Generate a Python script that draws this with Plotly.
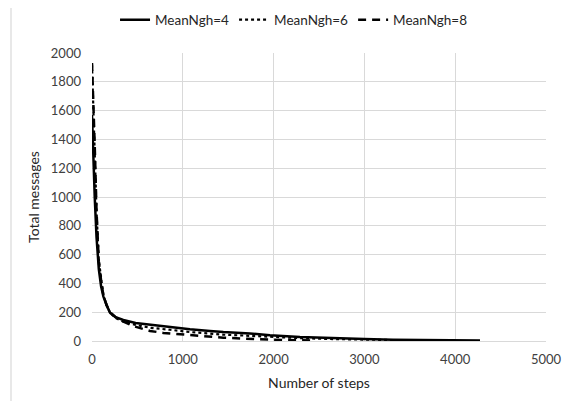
import plotly.graph_objects as go

steps4 = [0, 5, 15, 30, 50, 75, 100, 125, 160, 200, 260, 345, 480, 712, 860, 1079, 1300, 1446, 1740, 1960, 2290, 2600, 3000, 3315, 3700, 4000, 4273]
msgs4 = [1570, 1450, 1250, 1000, 720, 500, 380, 310, 250, 195, 165, 146, 125, 106, 98, 81, 70, 62, 52, 40, 28, 20, 14, 9, 6, 4, 3]

steps6 = [0, 5, 15, 30, 50, 75, 100, 125, 160, 200, 260, 345, 480, 639, 860, 1079, 1300, 1446, 1740, 1960, 2290, 2600, 3000, 3466]
msgs6 = [1920, 1800, 1600, 1300, 900, 560, 420, 320, 250, 195, 160, 135, 112, 92, 78, 62, 52, 44, 36, 28, 20, 14, 9, 5]

steps8 = [0, 5, 15, 30, 50, 75, 100, 125, 160, 200, 260, 327, 473, 639, 786, 969, 1116, 1300, 1446, 1630, 1776, 1923, 2100, 2435]
msgs8 = [1930, 1850, 1700, 1360, 900, 551, 420, 319, 250, 200, 165, 140, 100, 70, 56, 46, 36, 28, 23, 18, 14, 10, 7, 3]

names = ["MeanNgh=4", "MeanNgh=6", "MeanNgh=8"]
FONT = "Lato"

fig = go.Figure()
fig.add_trace(go.Scatter(x=steps4, y=msgs4, mode="lines", name=names[0],
                         line=dict(color="black", width=2.5)))
fig.add_trace(go.Scatter(x=steps6, y=msgs6, mode="lines", name=names[1],
                         line=dict(color="black", width=2.2, dash="dot")))
fig.add_trace(go.Scatter(x=steps8, y=msgs8, mode="lines", name=names[2],
                         line=dict(color="black", width=2.5, dash="8px,6px")))

fig.update_layout(
    width=572, height=401,
    margin=dict(l=84, r=34, t=45, b=68, autoexpand=False),
    paper_bgcolor="white", plot_bgcolor="white",
    font=dict(family=FONT, size=13, color="#404040"),
    legend=dict(orientation="h", x=0.445, xanchor="center", y=1.115, yanchor="middle",
                font=dict(size=13.5, color="#262626"), traceorder="normal",
                bgcolor="rgba(0,0,0,0)"),
    showlegend=True,
    shapes=[dict(type="rect", xref="paper", yref="paper",
                 x0=-0.1784, x1=1.5, y0=-0.5, y1=1.1597,
                 line=dict(color="#d9d9d9", width=1.2), layer="below")],
)
fig.update_xaxes(range=[0, 5000], dtick=1000, showgrid=True, gridcolor="#d9d9d9",
                 zeroline=False, showline=True, linecolor="#d9d9d9", automargin=False,
                 title=dict(text="Number of steps", font=dict(size=14, color="#262626"), standoff=12),
                 tickfont=dict(size=13, color="#404040"), ticks="", ticklabelstandoff=6,
                 fixedrange=True)
fig.update_yaxes(range=[0, 2000], dtick=200, showgrid=True, gridcolor="#d9d9d9",
                 zeroline=False, showline=False, automargin=False,
                 title=dict(text="Total messages", font=dict(size=14, color="#262626"), standoff=7),
                 tickfont=dict(size=13, color="#404040"), ticks="", ticklabelstandoff=10,
                 fixedrange=True)

fig.write_html("out.html")
